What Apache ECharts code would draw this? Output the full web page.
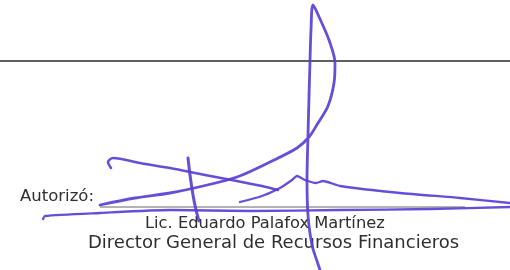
<!DOCTYPE html>
<html>
<head>
<meta charset="utf-8">
<script src="https://cdn.jsdelivr.net/npm/echarts@6/dist/echarts.min.js"></script>
<style>
  html, body { margin: 0; padding: 0; background: #fff; }
  #main { width: 510px; height: 270px; }
</style>
</head>
<body>
<div id="main"></div>
<script>
// page rules (x, y in picture units)
const topRule = [[0, 61], [510, 61]];
const signRule = [[100, 207], [465, 207]];

// signature strokes
const strokeMain = [
  [100, 205], [135, 198], [170, 193], [203, 186], [237, 177], [270, 162], [297, 148], [309, 137],
  [318, 123], [328, 106], [334, 83], [335, 63], [329, 40], [320, 19], [313, 5],
  [311, 30], [310, 61], [308, 135], [307, 180], [308, 215], [312, 245], [318, 264], [320, 270]
];
const strokeUpperLeft = [
  [111, 168], [108, 162], [113, 158], [140, 163], [170, 168], [205, 175], [237, 181], [262, 186], [278, 190]
];
const strokeRight = [
  [240, 202], [262, 196], [280, 188], [292, 180], [297, 176], [305, 180], [316, 183], [323, 181],
  [340, 186], [400, 193], [460, 198], [510, 203]
];
const strokeLower = [
  [43, 219], [45, 216], [100, 213], [170, 210], [250, 211], [340, 210], [430, 209], [510, 207]
];
const strokeShort = [
  [188, 158], [190, 175], [193, 195], [196, 210], [199, 221]
];

// texts
const labelAuth = 'Autorizó:';
const signerName = 'Lic. Eduardo Palafox Martínez';
const signerRole = 'Director General de Recursos Financieros';

const ink = '#5a3fd2';
const myChart = echarts.init(document.querySelector('#main'));

function stroke(data, width, smooth) {
  return {
    type: 'line',
    data: data,
    symbol: 'none',
    smooth: smooth,
    lineStyle: { color: ink, width: width, cap: 'round', join: 'round', opacity: 0.92 },
    z: 5
  };
}

const option = {
  animation: false,
  grid: { left: 0, right: 0, top: 0, bottom: 0, show: false },
  xAxis: { type: 'value', min: 0, max: 510, show: false },
  yAxis: { type: 'value', min: 0, max: 270, inverse: true, show: false },
  graphic: [
    {
      type: 'text', left: 20, top: 188,
      style: { text: labelAuth, fill: '#2e2e2e', font: '16.5px "DejaVu Sans"' }
    },
    {
      type: 'text', left: 145, top: 216,
      style: { text: signerName, fill: '#2e2e2e', font: '16.3px "DejaVu Sans"' }
    },
    {
      type: 'text', left: 88, top: 234,
      style: { text: signerRole, fill: '#2e2e2e', font: '18px "DejaVu Sans"' }
    }
  ],
  series: [
    {
      type: 'line', data: topRule, symbol: 'none',
      lineStyle: { color: '#2a2a2a', width: 1.5 }, z: 2
    },
    {
      type: 'line', data: signRule, symbol: 'none',
      lineStyle: { color: '#666', width: 1 }, z: 2
    },
    stroke(strokeMain, 2.8, 0.3),
    stroke(strokeUpperLeft, 2.5, 0.3),
    stroke(strokeRight, 2.3, 0.2),
    stroke(strokeLower, 2.3, 0.2),
    stroke(strokeShort, 3, 0.2)
  ]
};

myChart.setOption(option, true);
</script>
</body>
</html>
